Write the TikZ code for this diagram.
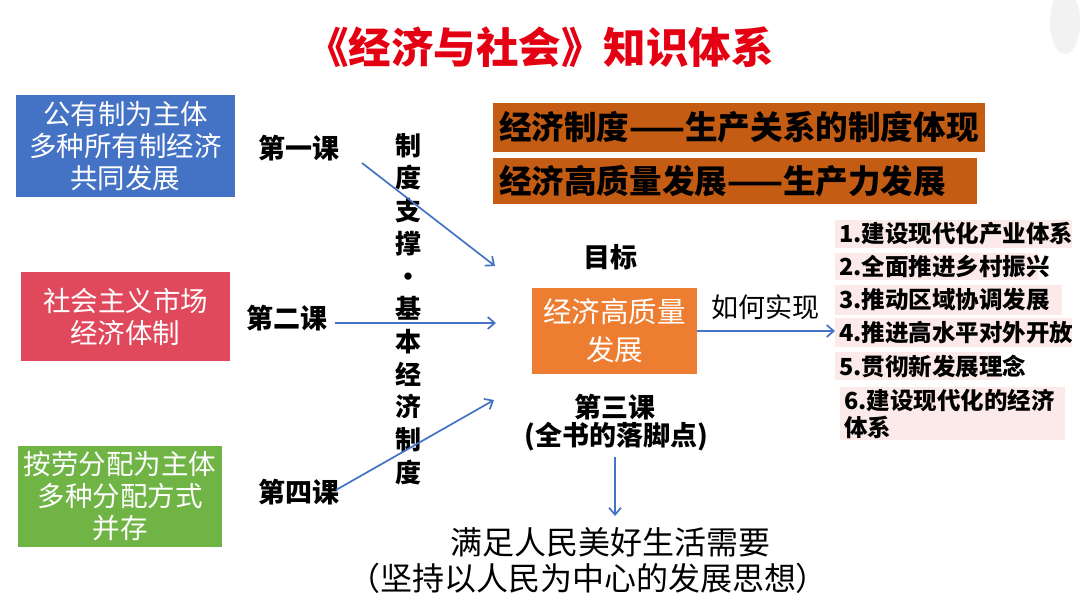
\documentclass[tikz,border=0pt]{standalone}
\usepackage{fontspec}
\setmainfont{Noto Sans CJK SC}
\usetikzlibrary{arrows.meta}
\definecolor{titlered}{RGB}{228,0,18}
\definecolor{boxblue}{RGB}{68,114,196}
\definecolor{boxred}{RGB}{224,72,92}
\definecolor{boxgreen}{RGB}{112,180,70}
\definecolor{goalorange}{RGB}{237,125,49}
\definecolor{hdrorange}{RGB}{197,92,20}
\definecolor{itempink}{RGB}{252,234,234}
\definecolor{arrowblue}{RGB}{68,114,196}
\begin{document}
\begin{tikzpicture}[x=1pt,y=-1pt,
  box/.style={inner sep=0pt, align=center, text=white, font=\fontsize{27.5}{32}\selectfont},
  lesson/.style={inner sep=0pt, font=\bfseries\fontsize{27}{30}\selectfont},
  arr/.style={draw=arrowblue, line width=1.7pt, -{Straight Barb[length=7pt,width=12pt]}},
  hdr/.style={fill=hdrorange, inner xsep=6pt, inner ysep=0pt, align=left, font=\bfseries\fontsize{32.6}{36}\selectfont},
  item/.style={fill=itempink, anchor=west, inner xsep=4pt, inner ysep=0pt, align=left, font=\bfseries\fontsize{23.5}{27}\selectfont}]
\useasboundingbox (0,0) rectangle (1080,608);
\fill[white] (0,0) rectangle (1080,608);
\fill[gray!10] (1065,22) ellipse [x radius=15, y radius=32];

\node[text=titlered, font=\bfseries\fontsize{42.5}{46}\selectfont] (title) at (540,47) {《经济与社会》知识体系};

\node[box, fill=boxblue, minimum width=219, minimum height=102] (pub) at (125.5,146) {公有制为主体\\多种所有制经济\\共同发展};
\node[box, fill=boxred, minimum width=209, minimum height=89] (mkt) at (125.5,316.5) {社会主义市场\\经济体制};
\node[box, fill=boxgreen, minimum width=204, minimum height=101] (dist) at (120,496.5) {按劳分配为主体\\多种分配方式\\并存};

\node[lesson] (l1) at (299,148) {第一课};
\node[lesson] (l2) at (287,318) {第二课};
\node[lesson] (l4) at (299,492) {第四课};

\node[inner sep=0pt, align=center, font=\bfseries\fontsize{26}{32.7}\selectfont] (vert) at (408,309) {制\\度\\支\\撑\\·\\基\\本\\经\\济\\制\\度};

\node[hdr, minimum width=492, minimum height=49, text width=480] (h1) at (739,127.5) {\mbox{经济制度——生产关系的制度体现}};
\node[hdr, minimum width=484, minimum height=46, text width=472] (h2) at (735,181) {\mbox{经济高质量发展——生产力发展}};

\node[lesson] (aim) at (610,257) {目标};
\node[box, fill=goalorange, minimum width=165, minimum height=86, font=\fontsize{28.5}{38}\selectfont] (goal) at (614.5,331) {经济高质量\\发展};
\node[lesson] (l3) at (615,407) {第三课};
\node[lesson] (l3b) at (616,437) {(全书的落脚点)};

\node[inner sep=0pt, font=\fontsize{27}{30}\selectfont] (how) at (765,307) {如何实现};

\node[item, minimum width=237, minimum height=28, text width=229] (i1) at (835,234) {1.建设现代化产业体系};
\node[item, minimum width=203, minimum height=27, text width=195] (i2) at (835,266.5) {2.全面推进乡村振兴};
\node[item, minimum width=227, minimum height=30, text width=219] (i3) at (835,300) {3.推动区域协调发展};
\node[item, minimum width=237, minimum height=29, text width=229] (i4) at (835,332.5) {4.推进高水平对外开放};
\node[item, minimum width=165, minimum height=28, text width=157] (i5) at (835,366) {5.贯彻新发展理念};
\node[item, minimum width=225, minimum height=53, text width=217] (i6) at (840,413.5) {6.建设现代化的经济\\体系};

\node[inner sep=0pt, font=\fontsize{32}{36}\selectfont] (need1) at (610,542) {满足人民美好生活需要};
\node[inner sep=0pt, font=\fontsize{32}{36}\selectfont] (need2) at (588,578) {（坚持以人民为中心的发展思想）};

\coordinate (s1) at (362,163);
\coordinate (e1) at (495,266);
\coordinate (s2) at (335,323);
\coordinate (e2) at (496,323);
\coordinate (s4) at (336,490);
\coordinate (e4) at (494,400);
\coordinate (sd) at (615,457);
\coordinate (ed) at (615,516);
\draw[arr] (s1) -- (e1);
\draw[arr] (s2) -- (e2);
\draw[arr] (s4) -- (e4);
\draw[arr] (goal.east) -- (goal.east -| i4.west);
\draw[arr] (sd) -- (ed);
\end{tikzpicture}
\end{document}
